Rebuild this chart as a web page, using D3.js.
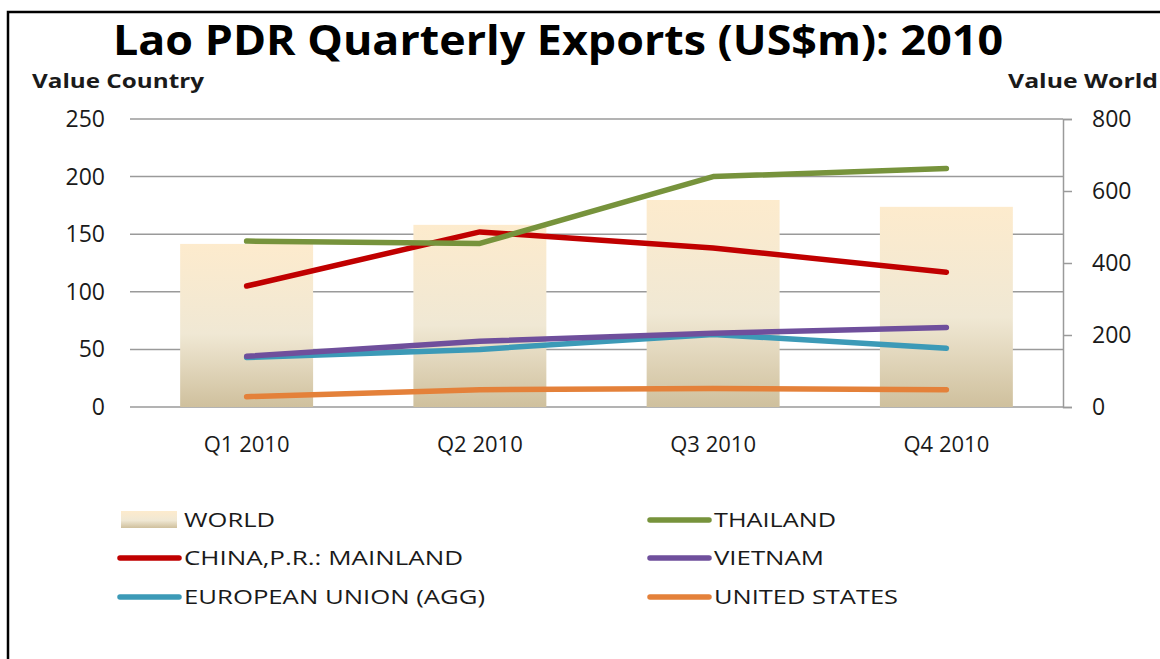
<!DOCTYPE html>
<html>
<head>
<meta charset="utf-8">
<script src="https://cdn.jsdelivr.net/npm/d3@7"></script>
<style>
  body { margin: 0; background: #fff; }
  text { font-family: "Open Sans", sans-serif; fill: #1a1a1a; }
</style>
</head>
<body>
<div id="chart"></div>
<script>
// data
var quarters = ["Q1 2010", "Q2 2010", "Q3 2010", "Q4 2010"];
var world = [453, 506, 575, 556];
var thailand = [144, 142, 200, 207];
var china = [105, 152, 138, 117];
var vietnam = [44, 57, 64, 69];
var eu = [43, 50, 63, 51];
var us = [9, 15, 16, 15];
var leftTicks = [0, 50, 100, 150, 200, 250];
var rightTicks = [0, 200, 400, 600, 800];

var series = [
  { name: "THAILAND", values: thailand, color: "#77933c" },
  { name: "CHINA,P.R.: MAINLAND", values: china, color: "#c00000" },
  { name: "VIETNAM", values: vietnam, color: "#6f4f9c" },
  { name: "EUROPEAN UNION (AGG)", values: eu, color: "#3c9ab7" },
  { name: "UNITED STATES", values: us, color: "#e4813a" }
];

var W = 1160, H = 659;
var margin = { top: 119, left: 130, right: 97, bottom: 252 };
var width = W - margin.left - margin.right,
  height = H - margin.top - margin.bottom;

var svg = d3.select("#chart").append("svg")
  .attr("width", W)
  .attr("height", H);

// gradient for the world bars
var grad = svg.append("defs").append("linearGradient")
  .attr("id", "barGrad")
  .attr("x1", 0).attr("y1", 0).attr("x2", 0).attr("y2", 1);
grad.append("stop").attr("offset", "0%").attr("stop-color", "#fdebcd");
grad.append("stop").attr("offset", "55%").attr("stop-color", "#f0e8d4");
grad.append("stop").attr("offset", "100%").attr("stop-color", "#cfc09d");

// outer frame
svg.append("rect")
  .attr("x", 8).attr("y", 12)
  .attr("width", 1200).attr("height", 700)
  .attr("fill", "none")
  .attr("stroke", "#000")
  .attr("stroke-width", 2.5);

// title
svg.append("text")
  .attr("x", 558).attr("y", 55)
  .attr("text-anchor", "middle")
  .attr("font-size", 42)
  .attr("font-weight", "bold")
  .attr("textLength", 890)
  .attr("lengthAdjust", "spacingAndGlyphs")
  .style("fill", "#000")
  .text("Lao PDR Quarterly Exports (US$m): 2010");

svg.append("text")
  .attr("x", 32).attr("y", 88)
  .attr("font-size", 19)
  .attr("font-weight", "bold")
  .attr("textLength", 172)
  .attr("lengthAdjust", "spacingAndGlyphs")
  .text("Value Country");

svg.append("text")
  .attr("x", 1008).attr("y", 88)
  .attr("font-size", 19)
  .attr("font-weight", "bold")
  .attr("textLength", 150)
  .attr("lengthAdjust", "spacingAndGlyphs")
  .text("Value World");

var g = svg.append("g")
  .attr("transform", "translate(" + margin.left + "," + margin.top + ")");

// scales
var x = d3.scaleBand()
  .domain(quarters)
  .range([0, width])
  .padding(0);

var barW = x.bandwidth() * 0.57;

var yLeft = d3.scaleLinear()
  .domain([0, 250])
  .range([height, 0]);

var yRight = d3.scaleLinear()
  .domain([0, 800])
  .range([height, 0]);

// gridlines
g.append("g")
  .selectAll("line")
  .data(leftTicks)
  .enter().append("line")
  .attr("x1", 0).attr("x2", width)
  .attr("y1", function(d) { return yLeft(d); })
  .attr("y2", function(d) { return yLeft(d); })
  .attr("stroke", "#9a9a9a")
  .attr("stroke-width", 1.5);

// left tick labels
g.append("g")
  .selectAll("text")
  .data(leftTicks)
  .enter().append("text")
  .attr("x", -25)
  .attr("y", function(d) { return yLeft(d); })
  .attr("dy", "0.35em")
  .attr("text-anchor", "end")
  .attr("font-size", 23)
  .text(function(d) { return d; });

// right axis
var rightAxis = g.append("g")
  .attr("transform", "translate(" + width + ",0)")
  .call(d3.axisRight(yRight).tickValues(rightTicks).tickSize(9).tickPadding(20));
rightAxis.select(".domain").attr("stroke", "#9a9a9a").attr("stroke-width", 1.5);
rightAxis.selectAll(".tick line").attr("stroke", "#9a9a9a").attr("stroke-width", 1.5);
rightAxis.selectAll(".tick text")
  .attr("font-size", 23)
  .attr("font-family", "Open Sans, sans-serif")
  .attr("fill", "#1a1a1a");

// bars (world, right axis)
g.append("g")
  .selectAll("rect")
  .data(world)
  .enter().append("rect")
  .attr("x", function(d, i) { return x(quarters[i]) + (x.bandwidth() - barW) / 2; })
  .attr("y", function(d) { return yRight(d); })
  .attr("width", barW)
  .attr("height", function(d) { return height - yRight(d); })
  .attr("fill", "url(#barGrad)");

// x labels
g.append("g")
  .selectAll("text")
  .data(quarters)
  .enter().append("text")
  .attr("x", function(d) { return x(d) + x.bandwidth() / 2; })
  .attr("y", height + 45)
  .attr("text-anchor", "middle")
  .attr("font-size", 22)
  .text(function(d) { return d; });

// lines (countries, left axis)
var line = d3.line()
  .x(function(d, i) { return x(quarters[i]) + x.bandwidth() / 2; })
  .y(function(d) { return yLeft(d); });

// draw order: lower ones first so the picture stacks the same way
var drawOrder = ["UNITED STATES", "EUROPEAN UNION (AGG)", "VIETNAM", "CHINA,P.R.: MAINLAND", "THAILAND"];
drawOrder.forEach(function(nm) {
  var s = series.filter(function(d) { return d.name == nm; })[0];
  g.append("path")
    .datum(s.values)
    .attr("d", line)
    .attr("fill", "none")
    .attr("stroke", s.color)
    .attr("stroke-width", 5.5)
    .attr("stroke-linecap", "round")
    .attr("stroke-linejoin", "round");
});

// legend
var legendItems = [
  { name: "WORLD", bar: true, col: 0, row: 0, w: 91 },
  { name: "THAILAND", col: 1, row: 0, w: 122 },
  { name: "CHINA,P.R.: MAINLAND", col: 0, row: 1, w: 279 },
  { name: "VIETNAM", col: 1, row: 1, w: 110 },
  { name: "EUROPEAN UNION (AGG)", col: 0, row: 2, w: 301 },
  { name: "UNITED STATES", col: 1, row: 2, w: 184 }
];
var colX = [118, 648], rowY = [520, 558, 597];

var legend = svg.append("g");
legendItems.forEach(function(it) {
  var lx = colX[it.col], ly = rowY[it.row];
  if (it.bar) {
    legend.append("rect")
      .attr("x", lx + 3).attr("y", ly - 9)
      .attr("width", 56).attr("height", 17)
      .attr("fill", "url(#barGrad)");
  } else {
    var s = series.filter(function(d) { return d.name == it.name; })[0];
    legend.append("line")
      .attr("x1", lx + 2).attr("x2", lx + 61)
      .attr("y1", ly).attr("y2", ly)
      .attr("stroke", s.color)
      .attr("stroke-width", 5.5)
      .attr("stroke-linecap", "round");
  }
  legend.append("text")
    .attr("x", lx + 66)
    .attr("y", ly + 7)
    .attr("font-size", 20)
    .attr("textLength", it.w)
    .attr("lengthAdjust", "spacingAndGlyphs")
    .text(it.name);
});
</script>
</body>
</html>
